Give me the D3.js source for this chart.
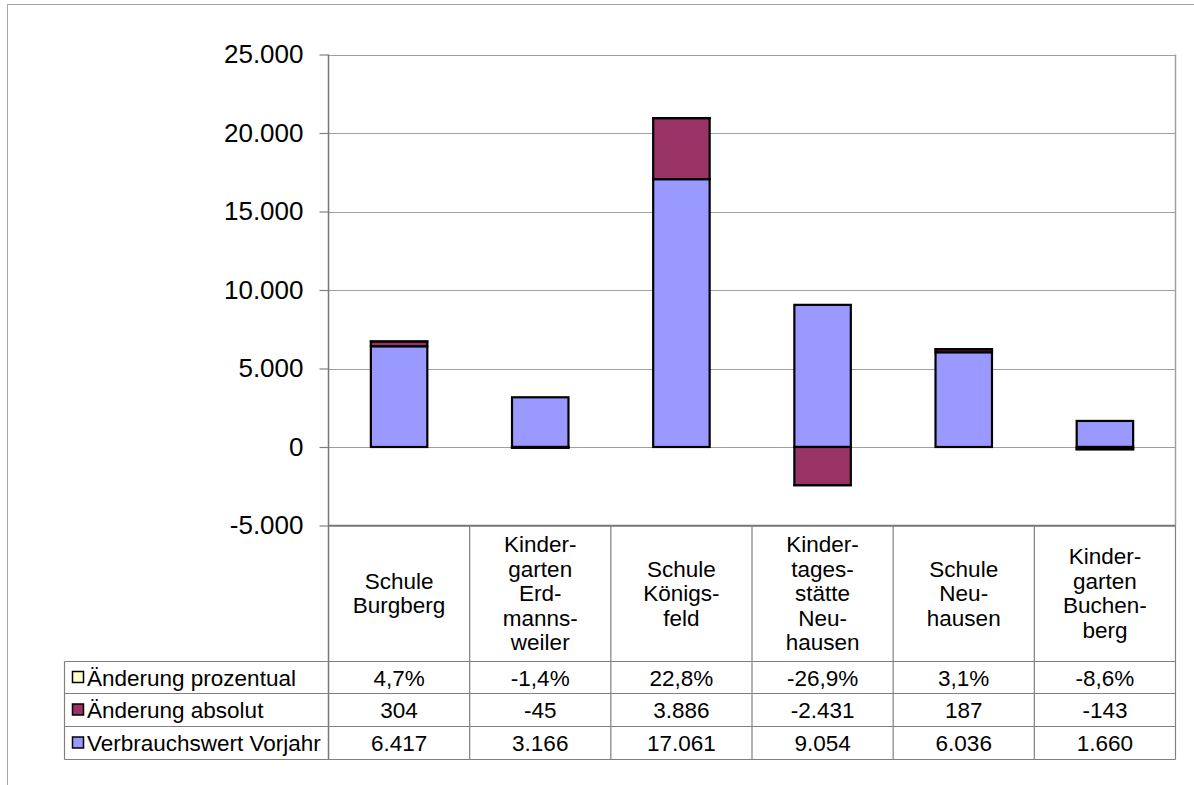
<!DOCTYPE html>
<html><head><meta charset="utf-8">
<script src="https://cdn.jsdelivr.net/npm/d3@7"></script>
<style>body{margin:0;background:#fff}svg{display:block;font-family:"Liberation Sans",Arial,sans-serif}</style>
</head><body><svg id="c" width="1194" height="785"></svg>
<script>
const categories = ["Schule\nBurgberg","Kinder-\ngarten\nErd-\nmanns-\nweiler","Schule\nKönigs-\nfeld","Kinder-\ntages-\nstätte\nNeu-\nhausen","Schule\nNeu-\nhausen","Kinder-\ngarten\nBuchen-\nberg"];
const seriesNames = ["Änderung prozentual","Änderung absolut","Verbrauchswert Vorjahr"];
const prozentual = [0.047,-0.014,0.228,-0.269,0.031,-0.086];
const absolut = [304,-45,3886,-2431,187,-143];
const vorjahr = [6417,3166,17061,9054,6036,1660];
const yTicks = [-5000,0,5000,10000,15000,20000,25000];
const colors = {"Änderung prozentual":"#FFFFCC","Änderung absolut":"#993366","Verbrauchswert Vorjahr":"#9999FF"};

const de = d3.formatLocale({decimal:",",thousands:".",grouping:[3],currency:["","€"],minus:"-"});
const fNum = de.format(",.0f");
const fPct = de.format(".1%");

const svg = d3.select("#c");
svg.append("rect").attr("x",7.5).attr("y",4.5).attr("width",1300).attr("height",900)
  .attr("fill","#fff").attr("stroke","#a6a6a6");

const L=328.5, R=1175.5, T=54.5, B=525.5;
const y = d3.scaleLinear().domain([-5000,25000]).range([B,T]);
const x = d3.scaleBand().domain(categories).range([L,R]);

// gridlines
svg.append("g").selectAll("line").data(yTicks).join("line")
  .attr("x1",L).attr("x2",R).attr("y1",d=>Math.round(y(d))+0.5).attr("y2",d=>Math.round(y(d))+0.5)
  .attr("stroke","#a0a0a0").attr("stroke-width",1.2);
svg.append("line").attr("x1",R).attr("x2",R).attr("y1",T).attr("y2",B).attr("stroke","#a0a0a0").attr("stroke-width",1.5);

// stacks
const rows = categories.map((c,i)=>({cat:c,"Verbrauchswert Vorjahr":vorjahr[i],"Änderung absolut":absolut[i],"Änderung prozentual":prozentual[i]}));
const stack = d3.stack().keys(["Verbrauchswert Vorjahr","Änderung absolut","Änderung prozentual"]).offset(d3.stackOffsetDiverging);
const layers = stack(rows);
const bw = x.bandwidth()*0.4;
svg.append("g").selectAll("g").data(layers).join("g")
  .attr("fill",d=>colors[d.key])
  .selectAll("rect").data(d=>d).join("rect")
  .attr("x",d=>x(d.data.cat)+(x.bandwidth()-bw)/2)
  .attr("width",bw)
  .attr("y",d=>y(Math.max(d[0],d[1])))
  .attr("height",d=>Math.abs(y(d[0])-y(d[1])))
  .attr("stroke","#000").attr("stroke-width",2.2);

// axis
const axis = d3.axisLeft(y).tickValues(yTicks).tickFormat(fNum).tickSize(9).tickPadding(16);
const ag = svg.append("g").attr("transform",`translate(${L},0)`).call(axis);
ag.select(".domain").remove();
ag.selectAll(".tick line").attr("stroke","#808080").attr("stroke-width",1.2);
ag.selectAll("text").attr("font-size",26).attr("fill","#000").attr("font-family","Liberation Sans, Arial, sans-serif");
svg.append("line").attr("x1",L).attr("x2",L).attr("y1",T).attr("y2",759.5).attr("stroke","#777").attr("stroke-width",1.5);
svg.append("line").attr("x1",L).attr("x2",R).attr("y1",B).attr("y2",B).attr("stroke","#777").attr("stroke-width",1.5);

// data table
const LL = 64.5;
const rowY = [525.5,661.5,693.5,726.5,759.5];
const tg = svg.append("g").attr("font-size",22.5).attr("fill","#000");
[rowY[1],rowY[2],rowY[3],rowY[4]].forEach(v=>{
  tg.append("line").attr("x1",LL).attr("x2",R).attr("y1",v).attr("y2",v).attr("stroke","#808080").attr("stroke-width",1.2);
});
tg.append("line").attr("x1",LL).attr("x2",LL).attr("y1",rowY[1]).attr("y2",rowY[4]).attr("stroke","#808080").attr("stroke-width",1.2);
categories.forEach((c,i)=>{
  const xr = x(c)+x.bandwidth();
  tg.append("line").attr("x1",xr).attr("x2",xr).attr("y1",B).attr("y2",rowY[4]).attr("stroke","#808080").attr("stroke-width",1.2);
});
// header labels
categories.forEach(c=>{
  const lines = c.split("\n");
  const lh = 24.5, cy = 593;
  const t = tg.append("text").attr("text-anchor","middle").attr("x",x(c)+x.bandwidth()/2);
  lines.forEach((ln,j)=>{
    t.append("tspan").attr("x",x(c)+x.bandwidth()/2)
     .attr("y",cy+(j-(lines.length-1)/2)*lh+8).text(ln);
  });
});
// value rows
const vals = [prozentual.map(fPct), absolut.map(fNum), vorjahr.map(fNum)];
seriesNames.forEach((s,r)=>{
  const cy = (rowY[r+1]+rowY[r+2])/2;
  tg.append("rect").attr("x",72.5).attr("y",cy-6).attr("width",11).attr("height",11)
    .attr("fill",colors[s]).attr("stroke","#000").attr("stroke-width",1.5);
  tg.append("text").attr("x",87).attr("y",cy+8).text(s);
  categories.forEach((c,i)=>{
    tg.append("text").attr("text-anchor","middle").attr("x",x(c)+x.bandwidth()/2).attr("y",cy+8).text(vals[r][i]);
  });
});
</script></body></html>
